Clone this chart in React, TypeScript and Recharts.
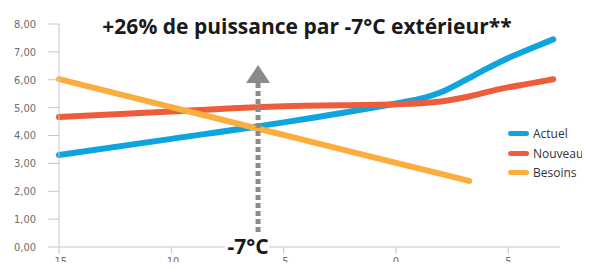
import React from "react";
import {
  LineChart,
  Line,
  XAxis,
  YAxis,
  ReferenceLine,
  ReferenceDot,
} from "recharts";

// temperatures (°C) and values
const actuelX = [-15, -10, -5, 0, 1, 2, 3, 4, 5, 6, 7];
const actuelY = [3.3, 3.88, 4.47, 5.15, 5.3, 5.55, 5.95, 6.38, 6.78, 7.12, 7.45];

const nouveauX = [-15, -10, -5, 0, 1.8, 3.3, 4.8, 6, 7];
const nouveauY = [4.66, 4.86, 5.05, 5.12, 5.2, 5.41, 5.7, 5.87, 6.02];

const besoinsX = [-15, -10, -5, 0, 3.26];
const besoinsY = [6.02, 5.02, 4.02, 3.02, 2.37];

const xTicks = [-15, -10, -5, 0, 5];
const yTicks = [0, 1, 2, 3, 4, 5, 6, 7, 8];

const arrowX = -6.14;
const arrowBottom = 0.54;
const arrowTop = 5.88;

const series = [
  { name: "Actuel", color: "#0ea5df", xs: actuelX, ys: actuelY },
  { name: "Nouveau", color: "#ee5d3b", xs: nouveauX, ys: nouveauY },
  { name: "Besoins", color: "#fbad3d", xs: besoinsX, ys: besoinsY },
];

const toPoints = (xs: number[], ys: number[]) =>
  xs.map((x, i) => ({ x, y: ys[i] }));

const axisColor = "#c6c6c6";
const tickStyle = {
  fill: "#6e6e6e",
  fontSize: 11,
  fontFamily: "'Liberation Sans Narrow', 'DejaVu Sans Condensed', sans-serif",
};

const Triangle = (props: any) => {
  const { cx, cy } = props;
  return (
    <polygon
      points={`${cx - 12},${cy} ${cx + 12},${cy} ${cx},${cy - 18}`}
      fill="#8a8a8a"
    />
  );
};

const TempLabel = (props: any) => {
  const { cx, cy } = props;
  return (
    <g>
      <rect x={cx - 33} y={cy - 10} width={44} height={18} fill="#fff" />
      <text
        x={cx - 10}
        y={cy + 7}
        textAnchor="middle"
        fontSize={21}
        fontWeight="bold"
        fontFamily="'Open Sans', sans-serif"
        fill="#1a1a1a"
      >
        -7°C
      </text>
    </g>
  );
};

export default function App() {
  return (
    <div style={{ margin: -8, position: "relative", width: 590, height: 270, background: "#fff", overflow: "hidden" }}>
      <LineChart
        width={590}
        height={270}
        margin={{ top: 24, right: 30, bottom: 0, left: 0 }}
      >
        <XAxis
          dataKey="x"
          type="number"
          domain={[-15, 7.3]}
          ticks={xTicks}
          allowDuplicatedCategory={false}
          height={23}
          stroke={axisColor}
          tickSize={7}
          tickMargin={3}
          tick={tickStyle}
        />
        <YAxis
          type="number"
          domain={[0, 8]}
          ticks={yTicks}
          width={59}
          stroke={axisColor}
          tickSize={11}
          tickMargin={12}
          tick={tickStyle}
          tickFormatter={(v: number) => v.toFixed(2).replace(".", ",")}
        />
        {series.map((s) => (
          <Line
            key={s.name}
            data={toPoints(s.xs, s.ys)}
            dataKey="y"
            name={s.name}
            type="monotone"
            stroke={s.color}
            strokeWidth={6}
            strokeLinecap="round"
            dot={false}
            activeDot={false}
            isAnimationActive={false}
          />
        ))}
        <ReferenceLine
          segment={[
            { x: arrowX, y: arrowBottom },
            { x: arrowX, y: arrowTop },
          ]}
          stroke="#8a8a8a"
          strokeWidth={5}
          strokeDasharray="5 3"
        />
        <ReferenceDot x={arrowX} y={arrowTop} shape={Triangle} ifOverflow="visible" />
        <ReferenceDot x={arrowX} y={0} shape={TempLabel} ifOverflow="visible" />
      </LineChart>
      <div
        style={{
          position: "absolute",
          left: 0,
          width: 614,
          top: 12,
          textAlign: "center",
          fontFamily: "'Open Sans', sans-serif",
          fontWeight: "bold",
          fontSize: 21,
          color: "#1a1a1a",
          whiteSpace: "nowrap",
        }}
      >
        +26% de puissance par -7°C extérieur**
      </div>
      <div
        style={{
          position: "absolute",
          left: 508,
          top: 124,
          width: 110,
          fontFamily: "'Open Sans', sans-serif",
          fontSize: 12,
          color: "#333",
          whiteSpace: "nowrap",
        }}
      >
        {series.map((s) => (
          <div key={s.name} style={{ display: "flex", alignItems: "center", height: 19.5 }}>
            <span
              style={{
                display: "inline-block",
                flexShrink: 0,
                width: 21,
                height: 5,
                borderRadius: 3,
                background: s.color,
                marginRight: 4,
              }}
            />
            <span style={{ flexShrink: 0 }}>{s.name}</span>
          </div>
        ))}
      </div>
    </div>
  );
}
